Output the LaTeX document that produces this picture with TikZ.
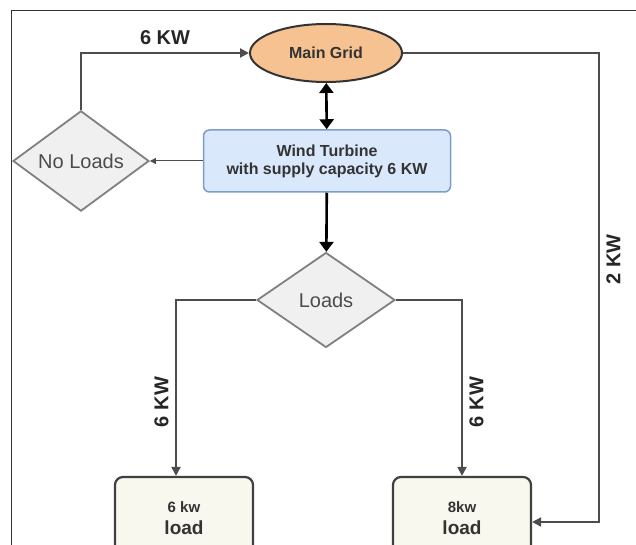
\documentclass[tikz,border=0pt]{standalone}
\usepackage{fontspec}
\setmainfont{Liberation Sans}
\usetikzlibrary{shapes.geometric,arrows.meta}
\definecolor{gridfill}{HTML}{F7C291}
\definecolor{windfill}{HTML}{DAE8FC}
\definecolor{windline}{HTML}{7E9CC8}
\definecolor{askfill}{HTML}{F0F0F0}
\definecolor{loadfill}{HTML}{F9F8EF}
\definecolor{wire}{HTML}{4D4D4D}
\tikzset{
  gridnode/.style={ellipse, draw=black!80, fill=gridfill, line width=2pt,
    minimum width=152pt, minimum height=58pt, inner sep=0pt, text=black!80,
    font=\fontsize{16}{18}\selectfont\bfseries},
  windbox/.style={rectangle, rounded corners=6pt, draw=windline, fill=windfill,
    line width=1.5pt, minimum width=247pt, minimum height=62pt, align=center,
    text=black!80, font=\fontsize{16}{18}\selectfont\bfseries},
  ask/.style={diamond, draw=black!50, fill=askfill, line width=1.8pt, inner sep=0pt,
    text=black!70, font=\fontsize{20}{22}\selectfont},
  loadbox/.style={rectangle, rounded corners=8pt, draw=black!75, fill=loadfill,
    line width=2.2pt, minimum width=138pt, minimum height=82pt, align=center,
    text=black!80, font=\fontsize{19}{22}\selectfont\bfseries},
  wirelabel/.style={font=\fontsize{20}{22}\selectfont\bfseries, text=black!85},
  flow/.style={draw=wire, line width=2pt, -{Triangle[length=9pt,width=9pt]}},
  bigflow/.style={draw=black, line width=2.6pt, -{Triangle[length=10pt,width=14pt]}}
}
\begin{document}
\begin{tikzpicture}[x=1pt, y=-1pt]
\useasboundingbox (0,0) rectangle (636,545);
\draw[black!80, line width=1pt] (636,11) -- (11,11) -- (11,545);

\node[gridnode] (grid) at (326,53) {Main Grid};
\node[windbox] (wind) at (327,161) {Wind Turbine\\with supply capacity 6 KW};
\node[ask, minimum width=136pt, minimum height=96pt] (noload) at (81,161) {No Loads};
\node[ask, minimum width=138pt, minimum height=95pt] (loads) at (326,300) {Loads};
\node[loadbox] (small) at (184,518) {{\fontsize{15}{17}\selectfont 6 kw}\\load};
\node[loadbox] (big) at (462,518) {{\fontsize{15}{17}\selectfont 8kw}\\load};
\coordinate (corner) at (599,53);

\draw[bigflow, {Triangle[length=10pt,width=14pt]}-{Triangle[length=10pt,width=14pt]}] (grid) -- (wind);
\draw[bigflow] (wind) -- (loads);
\draw[draw=wire, line width=1pt, -{Triangle[length=6pt,width=6pt]}] (wind) -- (noload);
\draw[flow] (noload.north) |- node[wirelabel, pos=0.75, above=4pt]{6 KW} (grid.west);
\draw[flow] (grid.east) -- (corner) |- node[wirelabel, pos=0.22, rotate=90, below=3pt]{2 KW} ([yshift=-4pt]big.east);
\draw[flow] (loads.west) -| node[wirelabel, pos=0.79, rotate=90, above=3pt]{6 KW} ([xshift=-8pt]small.north);
\draw[flow] (loads.east) -| node[wirelabel, pos=0.79, rotate=90, below=3pt]{6 KW} (big.north);
\end{tikzpicture}
\end{document}
